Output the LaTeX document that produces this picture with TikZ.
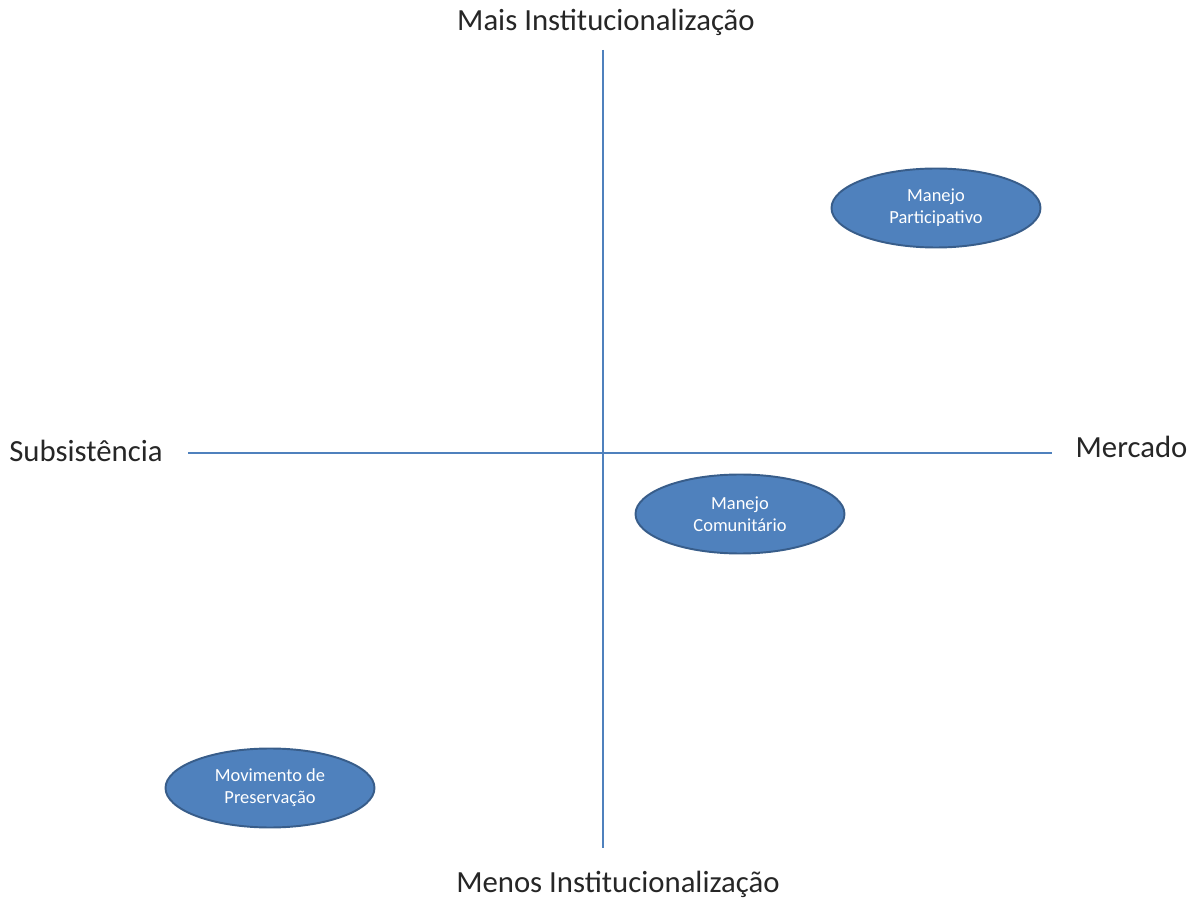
\documentclass[tikz,border=0pt]{standalone}
\usepackage{fontspec}
\setmainfont{Carlito}
\usepackage{tikz}
\usetikzlibrary{shapes.geometric}

\definecolor{axisblue}{HTML}{4F81BD}
\definecolor{ellfill}{HTML}{4F81BD}
\definecolor{elldraw}{HTML}{385D8A}

\begin{document}
\begin{tikzpicture}[
    axislabel/.style={font=\fontsize{17.5}{20}\selectfont, text=black!85},
    quadellipse/.style={shape=ellipse, draw=elldraw, fill=ellfill, line width=1.1pt,
        minimum width=4.18cm, minimum height=1.58cm, inner sep=0pt,
        text=white, align=center, font=\fontsize{10.5}{12.5}\selectfont},
    axisline/.style={draw=axisblue, line width=1.1pt},
]
\useasboundingbox (0, 0) rectangle (23.86, 18);

\coordinate (top) at (12.06, 17);
\coordinate (bottom) at (12.06, 1.04);
\coordinate (left) at (3.76, 8.94);
\coordinate (right) at (21.04, 8.94);

\node[axislabel] (mais) at (12.12, 17.55) {Mais Institucionalização};
\node[axislabel] (menos) at (12.36, 0.32) {Menos Institucionalização};
\node[axislabel] (subs) at (1.72, 8.98) {Subsistência};
\node[axislabel] (merc) at (22.63, 9.06) {Mercado};

\node[quadellipse] (part) at (18.72, 13.84) {Manejo\\Participativo};
\node[quadellipse] (comu) at (14.8, 7.72) {Manejo\\Comunitário};
\node[quadellipse] (pres) at (5.4, 2.24) {Movimento de\\Preservação};

\path[axisline]
    (top) edge (bottom)
    (left) edge (right)
;
\end{tikzpicture}
\end{document}
